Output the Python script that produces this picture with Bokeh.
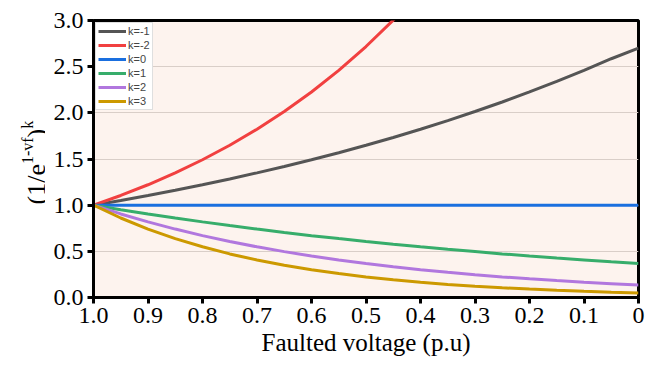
import math
from bokeh.plotting import figure
from bokeh.layouts import row
from bokeh.models import Range1d, FixedTicker, Legend, LegendItem
from bokeh.core.properties import value
from bokeh.embed import file_html
from bokeh.resources import INLINE

# Faulted voltage (p.u)
vf = [1.0, 0.95, 0.9, 0.85, 0.8, 0.75, 0.7, 0.65, 0.6, 0.55, 0.5,
      0.45, 0.4, 0.35, 0.3, 0.25, 0.2, 0.15, 0.1, 0.05, 0.0]

# values
k_m1 = [1.000, 1.051, 1.105, 1.162, 1.221, 1.284, 1.350, 1.419, 1.492, 1.568, 1.649,
        1.733, 1.822, 1.916, 2.014, 2.117, 2.226, 2.340, 2.460, 2.586, 2.700]
vf_m2 = [1.0, 0.95, 0.9, 0.85, 0.8, 0.75, 0.7, 0.65, 0.6, 0.55, 0.5, 0.45, 0.4]
k_m2 = [1.000, 1.105, 1.221, 1.350, 1.492, 1.649, 1.822, 2.014, 2.226, 2.460, 2.718,
        3.004, 3.320]
k_0 = [1.0] * 21
k_1 = [1.000, 0.951, 0.905, 0.861, 0.819, 0.779, 0.741, 0.705, 0.670, 0.638, 0.607,
       0.577, 0.549, 0.522, 0.497, 0.472, 0.449, 0.427, 0.407, 0.387, 0.368]
k_2 = [1.000, 0.905, 0.819, 0.741, 0.670, 0.607, 0.549, 0.497, 0.449, 0.407, 0.368,
       0.333, 0.301, 0.273, 0.247, 0.223, 0.202, 0.183, 0.165, 0.150, 0.135]
k_3 = [1.000, 0.861, 0.741, 0.638, 0.549, 0.472, 0.407, 0.350, 0.301, 0.259, 0.223,
       0.192, 0.165, 0.142, 0.122, 0.105, 0.091, 0.078, 0.067, 0.058, 0.050]

series_names = ["k=-1", "k=-2", "k=0", "k=1", "k=2", "k=3"]
series_colors = ["#555555", "#f14040", "#1a6fdf", "#37ad6b", "#b177de", "#cc9900"]

x_ticks = [1.0, 0.9, 0.8, 0.7, 0.6, 0.5, 0.4, 0.3, 0.2, 0.1, 0.0]
x_tick_labels = ["1.0", "0.9", "0.8", "0.7", "0.6", "0.5", "0.4", "0.3", "0.2", "0.1", "0"]
y_ticks = [0.0, 0.5, 1.0, 1.5, 2.0, 2.5, 3.0]
y_tick_labels = ["0.0", "0.5", "1.0", "1.5", "2.0", "2.5", "3.0"]

x_title = "Faulted voltage (p.u)"
y_title_parts = ["(1/e", "1-vf", ")", "k"]

SERIF = "Liberation Serif"
LEFT_W = 45
FRAME_TOP, FRAME_BOTTOM = 20, 297

# ---------------- main chart ----------------
p = figure(width=657 - LEFT_W, height=367, x_range=Range1d(1.0, 0.0), y_range=Range1d(0, 3.0),
           output_backend="svg", toolbar_location=None,
           min_border_left=93 - LEFT_W, min_border_right=19, min_border_top=FRAME_TOP,
           min_border_bottom=367 - FRAME_BOTTOM)

p.background_fill_color = "#fdf3ee"
p.border_fill_color = "white"
p.outline_line_color = "black"
p.outline_line_width = 3

p.xgrid.grid_line_color = None
p.ygrid.grid_line_color = "#d9cec8"
p.ygrid.grid_line_width = 1

for ax in (p.xaxis[0], p.yaxis[0]):
    ax.axis_line_width = 3
    ax.axis_line_color = "black"
    ax.major_tick_line_width = 3
    ax.major_tick_out = 6
    ax.major_tick_in = 0
    ax.minor_tick_line_color = None
    ax.major_label_text_font = SERIF
    ax.major_label_text_font_size = "24px"
    ax.major_label_text_color = "black"

p.xaxis.ticker = FixedTicker(ticks=x_ticks)
p.xaxis.major_label_overrides = dict(zip(x_ticks, x_tick_labels))
p.xaxis.major_label_standoff = 4
p.xaxis.axis_label = x_title
p.xaxis.axis_label_text_font = SERIF
p.xaxis.axis_label_text_font_size = "25px"
p.xaxis.axis_label_text_font_style = "normal"
p.xaxis.axis_label_text_color = "black"
p.xaxis.axis_label_standoff = 3

p.yaxis.ticker = FixedTicker(ticks=y_ticks)
p.yaxis.major_label_overrides = dict(zip(y_ticks, y_tick_labels))
p.yaxis.major_label_standoff = 4

xs = [vf, vf_m2, vf, vf, vf, vf]
ys = [k_m1, k_m2, k_0, k_1, k_2, k_3]
renderers = []
for x, y, c in zip(xs, ys, series_colors):
    renderers.append(p.line(x, y, line_color=c, line_width=3))

legend = Legend(items=[LegendItem(label=n, renderers=[r]) for n, r in zip(series_names, renderers)],
                location="top_left")
legend.label_text_font = "Liberation Sans"
legend.label_text_font_size = "11px"
legend.glyph_width = 28
legend.glyph_height = 12
legend.label_height = 12
legend.spacing = 2
legend.padding = 2
legend.margin = 2
legend.label_standoff = 2
legend.background_fill_color = "white"
legend.background_fill_alpha = 1.0
legend.border_line_color = "#c0c0c0"
legend.border_line_width = 1
p.add_layout(legend)

# ---------------- rotated y-axis title: (1/e^{1-vf})^k ----------------
# the row aligns this panel's frame with the main frame, so map 1 unit = 1 pixel
FH = FRAME_BOTTOM - FRAME_TOP
fl = figure(width=LEFT_W, height=367, x_range=Range1d(0, LEFT_W), y_range=Range1d(0, FH),
            output_backend="svg", toolbar_location=None,
            x_axis_location=None, y_axis_location=None, min_border=0)
fl.outline_line_color = None
fl.grid.grid_line_color = None
fl.background_fill_color = "white"
fl.border_fill_color = "white"

base_size, sup_size = 26, 16
start = FRAME_BOTTOM - 204   # lower end of the title, measured up from the frame bottom
base_x, sup_x = 36, 27
w_open = (0.333 + 0.5 + 0.278 + 0.444) * base_size
w_sup1 = (0.5 + 0.333 + 0.5 + 0.333) * sup_size
w_close = 0.333 * base_size
pos = [(base_x, start, base_size),
       (sup_x, start + w_open, sup_size),
       (base_x, start + w_open + w_sup1, base_size),
       (sup_x, start + w_open + w_sup1 + w_close, sup_size)]
for (tx, ty, fs), t in zip(pos, y_title_parts):
    fl.text(x=[tx], y=[ty], text=[t], angle=math.pi / 2, text_font=value(SERIF),
            text_font_size=f"{fs}px", text_align="left", text_baseline="alphabetic",
            text_color="black")

layout = row(fl, p, spacing=0)
open("out.html", "w").write(file_html(layout, INLINE))
